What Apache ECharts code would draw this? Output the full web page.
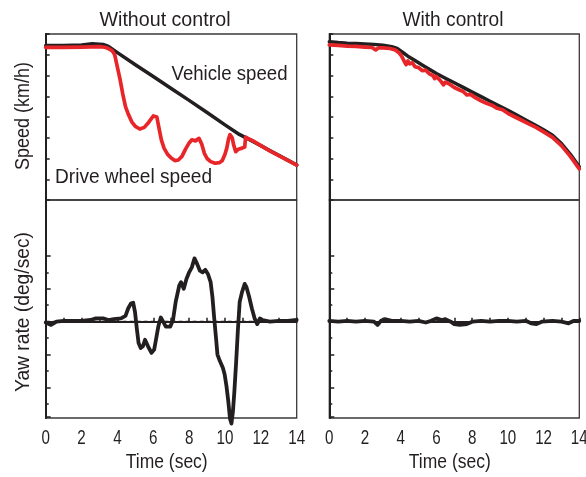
<!DOCTYPE html>
<html>
<head>
<meta charset="utf-8">
<script src="https://cdn.jsdelivr.net/npm/echarts@6/dist/echarts.min.js"></script>
<style>
  html, body { margin: 0; padding: 0; background: #fff; }
  #chart { width: 586px; height: 477px; }
</style>
</head>
<body>
<div id="chart"></div>
<script>
// Braking test traces: left column without control, right column with control.
const panelTitles = ['Without control', 'With control'];
const timeTickLabels = [0, 2, 4, 6, 8, 10, 12, 14];
const curveLabels = ['Vehicle speed', 'Drive wheel speed'];
const axisNames = ['Speed (km/h)', 'Yaw rate (deg/sec)', 'Time (sec)'];

// [time (s), speed] without control
const vehicleSpeedOff = [
  [0, 74.4], [0.5, 74.4], [1, 74.5], [1.5, 74.6], [2, 74.7], [2.6, 75.3], [3.2, 75.0],
  [3.5, 74.0], [4, 71.0], [5, 65.2], [6, 59.5], [7, 53.7], [8, 48.0], [9, 42.2],
  [10, 36.2], [10.8, 31.6], [11.5, 28.5], [12, 26.2], [12.5, 23.8], [13, 21.5],
  [13.5, 19.2], [14, 16.9]
];
const wheelSpeedOff = [
  [0, 73.6], [1, 73.6], [2, 73.7], [3, 73.9], [3.3, 73.6], [3.5, 73.0], [3.7, 72.0],
  [3.85, 70.0], [3.95, 66], [4.05, 62], [4.15, 58], [4.3, 51], [4.45, 45], [4.6, 41.5],
  [4.8, 37.7], [5.0, 35.5], [5.25, 34.2], [5.5, 35], [5.75, 37.5], [6.0, 40.5], [6.1, 41.2],
  [6.2, 40], [6.3, 35.5], [6.45, 29], [6.6, 25], [6.8, 22], [7.0, 20.2], [7.2, 19],
  [7.4, 19.3], [7.6, 21], [7.8, 24.5], [8.0, 27.5], [8.15, 29], [8.35, 28.5], [8.55, 29.7],
  [8.7, 27], [8.85, 22.5], [9.0, 20], [9.2, 18.5], [9.45, 17.7], [9.7, 18], [9.85, 19],
  [10.0, 22], [10.1, 25], [10.2, 29.5], [10.28, 31.5], [10.4, 30], [10.5, 26], [10.6, 23.3],
  [10.75, 24.5], [10.95, 25], [11.1, 25.5], [11.15, 30.3], [11.3, 29.6], [11.6, 28.3],
  [12, 26.2], [12.5, 23.7], [13, 21.4], [13.5, 19.1], [14, 16.8]
];

// [time (s), speed] with control
const vehicleSpeedOn = [
  [0, 76.3], [0.5, 75.9], [1, 75.6], [1.5, 75.4], [2, 75.2], [2.5, 75.0], [3, 74.6],
  [3.5, 73.9], [3.8, 73.0], [4.1, 71.2], [4.4, 69.3], [4.8, 67.2], [5.2, 65.1], [5.6, 63.0],
  [6, 61.0], [6.5, 58.7], [7, 56.5], [7.5, 54.3], [8, 52.0], [8.5, 49.8], [9, 47.6],
  [9.5, 45.4], [10, 43.2], [10.5, 40.9], [11, 38.5], [11.5, 36.2], [12, 33.8], [12.5, 31.2],
  [13, 27.2], [13.5, 22.0], [14, 16.0]
];
const wheelSpeedOn = [
  [0, 74.8], [0.5, 74.5], [1, 74.2], [1.5, 74.0], [2, 73.7], [2.4, 73.5], [2.6, 72.3],
  [2.75, 73.3], [3, 73.3], [3.4, 73.0], [3.7, 72.3], [3.9, 71.0], [4.05, 69.3], [4.2, 66.8],
  [4.3, 65.2], [4.4, 67.0], [4.5, 65.6], [4.65, 66.2], [4.8, 64.2], [5.0, 63.8], [5.2, 62.3],
  [5.4, 62.6], [5.6, 60.8], [5.8, 60.0], [5.9, 58.5], [6.0, 59.5], [6.25, 57.2], [6.4, 55.5],
  [6.5, 56.8], [6.7, 56.0], [7, 54.2], [7.3, 53.0], [7.5, 52.3], [7.7, 50.6], [7.9, 50.9],
  [8.2, 49.2], [8.5, 47.8], [8.8, 46.6], [9.1, 45.7], [9.4, 44.2], [9.7, 43.5], [10, 41.8],
  [10.4, 40.0], [10.8, 38.3], [11.2, 36.6], [11.6, 34.9], [12, 32.8], [12.5, 30.2],
  [13, 26.2], [13.5, 21.0], [14, 15.0]
];

// [time (s), yaw rate] in tick units
const yawRateOff = [
  [0, -0.05], [0.3, -0.2], [0.6, 0.0], [1, 0.05], [1.5, 0.05], [2, 0.05], [2.5, 0.1],
  [2.8, 0.2], [3.2, 0.2], [3.5, 0.1], [3.8, 0.15], [4.2, 0.2], [4.45, 0.35], [4.6, 0.8],
  [4.75, 1.1], [4.88, 1.15], [4.98, 0.6], [5.08, -0.4], [5.18, -1.3], [5.3, -1.6],
  [5.42, -1.5], [5.54, -1.1], [5.65, -1.2], [5.75, -1.6], [5.9, -1.9], [6.05, -1.7],
  [6.15, -1.1], [6.28, -0.3], [6.42, 0.25], [6.55, 0.0], [6.7, -0.3], [6.95, -0.3],
  [7.1, 0.1], [7.25, 1.2], [7.45, 2.2], [7.55, 2.4], [7.7, 2.0], [7.85, 2.6], [8.0, 3.0],
  [8.15, 3.3], [8.3, 3.85], [8.45, 3.5], [8.6, 3.1], [8.75, 3.0], [8.9, 3.15], [9.05, 2.9],
  [9.2, 2.4], [9.3, 1.5], [9.4, 0.2], [9.5, -1.0], [9.58, -2.0], [9.68, -2.3], [9.78, -2.3],
  [9.88, -2.8], [9.98, -3.2], [10.08, -3.9], [10.18, -4.8], [10.28, -5.9], [10.36, -6.2],
  [10.44, -5.5], [10.52, -4.3], [10.62, -2.5], [10.72, -0.5], [10.82, 1.2], [10.95, 1.8],
  [11.1, 2.3], [11.2, 2.1], [11.35, 1.5], [11.5, 0.8], [11.65, 0.2], [11.8, -0.15],
  [11.95, 0.2], [12.1, 0.1], [12.5, 0.0], [13, 0.05], [13.5, 0.05], [14, 0.1]
];
const yawRateOn = [
  [0, 0.05], [0.5, 0.0], [1, 0.05], [1.5, 0.0], [2, 0.05], [2.5, 0.0], [2.7, -0.2],
  [2.9, 0.05], [3.1, 0.15], [3.5, 0.05], [4, 0.05], [4.5, 0.0], [5, 0.05], [5.4, -0.05],
  [5.7, 0.05], [6, 0.2], [6.3, 0.1], [6.5, 0.15], [6.8, 0.0], [7, -0.15], [7.3, -0.2],
  [7.7, -0.15], [8, 0.0], [8.5, 0.05], [9, 0.0], [9.5, 0.05], [10, 0.05], [10.5, 0.0],
  [11, 0.05], [11.3, -0.1], [11.6, -0.15], [11.9, 0.0], [12.5, 0.05], [13, 0.0],
  [13.4, -0.1], [13.7, 0.05], [14, 0.05]
];

const yawMajorTicks = [-5.78, -4, -2, 0, 2, 4];
const yawMinorTicks = [-5, -3, -1, 1, 3];

const FONT = '"Liberation Sans", Arial, sans-serif';
const INK = '#231f20';
const RED = '#e8262a';
const BORDER = '#3a3a3a';

const colLeft = [45.7, 329.3];
const colWidth = [251, 250];
const speedTop = 34, speedHeight = 166;
const yawTop = 200, yawHeight = 218;
const yawMin = -5.86, yawMax = 7.4;

const grids = [];
const xAxes = [];
const yAxes = [];
const series = [];

[0, 1].forEach(function (c) {
  grids.push({ left: colLeft[c], top: speedTop, width: colWidth[c], height: speedHeight,
    show: true, borderColor: BORDER, borderWidth: 1.3, backgroundColor: 'transparent' });
  grids.push({ left: colLeft[c], top: yawTop, width: colWidth[c], height: yawHeight,
    show: true, borderColor: BORDER, borderWidth: 1.3, backgroundColor: 'transparent' });
  const gS = c * 2, gY = c * 2 + 1;

  // time axes (labels are drawn condensed afterwards)
  xAxes.push({ type: 'value', gridIndex: gS, min: 0, max: 14, interval: 1,
    axisLine: { show: false }, axisTick: { show: false }, axisLabel: { show: false },
    splitLine: { show: false } });
  xAxes.push({ type: 'value', gridIndex: gY, min: 0, max: 14, interval: 1,
    axisLine: { show: true, lineStyle: { color: INK, width: 2 } },
    axisTick: { show: true, inside: true, length: 4, lineStyle: { color: INK, width: 1.5 } },
    axisLabel: { show: false }, splitLine: { show: false } });

  // speed axis
  yAxes.push({ type: 'value', gridIndex: gS, min: 0, max: 80, interval: 10, position: 'left',
    axisLine: { show: true, lineStyle: { color: INK, width: 2 } },
    axisTick: { show: true, inside: true, length: 4, lineStyle: { color: INK, width: 1.5 } },
    axisLabel: { show: false }, splitLine: { show: false } });
  // yaw axis with long ticks
  yAxes.push({ type: 'value', gridIndex: gY, min: yawMin, max: yawMax, position: 'left',
    axisLine: { show: true, lineStyle: { color: INK, width: 2 } },
    axisTick: { show: true, inside: true, length: 5, customValues: yawMajorTicks,
      lineStyle: { color: INK, width: 1.5 } },
    axisLabel: { show: false }, splitLine: { show: false } });
  // short intermediate yaw ticks
  yAxes.push({ type: 'value', gridIndex: gY, min: yawMin, max: yawMax, position: 'left',
    axisLine: { show: false },
    axisTick: { show: true, inside: true, length: 3, customValues: yawMinorTicks,
      lineStyle: { color: INK, width: 1.5 } },
    axisLabel: { show: false }, splitLine: { show: false } });
});

function trace(data, xi, yi, color, width, extra) {
  return Object.assign({
    type: 'line', data: data, xAxisIndex: xi, yAxisIndex: yi,
    showSymbol: false, symbol: 'none', animation: false,
    lineStyle: { color: color, width: width, join: 'round', cap: 'round' }
  }, extra || {});
}

// left column: xAxes 0 (speed) 1 (yaw); yAxes 0 speed, 1 yaw, 2 yaw minor
series.push(trace(vehicleSpeedOff, 0, 0, INK, 3.5));
series.push(trace(wheelSpeedOff, 0, 0, RED, 3.7));
series.push(trace(yawRateOff, 1, 1, INK, 3.8, {
  clip: false,
  markLine: {
    silent: true, symbol: 'none', animation: false,
    label: { show: false },
    lineStyle: { color: INK, width: 1.3, type: [4, 3] },
    data: [{ yAxis: 0 }]
  }
}));
// right column: xAxes 2, 3; yAxes 3 speed, 4 yaw, 5 yaw minor
series.push(trace(vehicleSpeedOn, 2, 3, INK, 3.5));
series.push(trace(wheelSpeedOn, 2, 3, RED, 3.7));
series.push(trace(yawRateOn, 3, 4, INK, 3.8));

const chart = echarts.init(document.getElementById('chart'), null, { renderer: 'canvas' });
chart.setOption({
  animation: false,
  backgroundColor: '#fff',
  grid: grids,
  xAxis: xAxes,
  yAxis: yAxes,
  series: series
});

// Condensed text: measure with the page font, then squeeze horizontally to the set width.
const measureCtx = document.createElement('canvas').getContext('2d');
function condensed(text, x, y, size, width, rotate) {
  measureCtx.font = size + 'px ' + FONT;
  const natural = measureCtx.measureText(text).width;
  return { type: 'text', x: x, y: y, silent: true,
    rotation: rotate ? Math.PI / 2 : 0,
    scaleX: width / natural, scaleY: 1,
    style: { text: text, font: size + 'px ' + FONT, fill: INK,
      align: 'center', verticalAlign: 'middle',
      textAlign: 'center', textVerticalAlign: 'middle' } };
}
function squeezed(text, x, y, size, sx) {
  return { type: 'text', x: x, y: y, silent: true, scaleX: sx, scaleY: 1,
    style: { text: text, font: size + 'px ' + FONT, fill: INK,
      align: 'center', verticalAlign: 'middle',
      textAlign: 'center', textVerticalAlign: 'middle' } };
}

const graphics = [
  condensed(panelTitles[0], 165, 20, 21, 131),
  condensed(panelTitles[1], 453, 20, 21, 101),
  condensed(curveLabels[0], 229.5, 74.5, 21, 116),
  condensed(curveLabels[1], 133.5, 177.5, 21, 157),
  condensed(axisNames[0], 23, 116, 21, 108, true),
  condensed(axisNames[1], 23, 312, 21, 160, true)
];

// time tick labels and axis titles placed from the bottom time axes
[1, 3].forEach(function (xi, c) {
  const base = chart.convertToPixel({ yAxisIndex: c === 0 ? 1 : 4 }, yawMin);
  timeTickLabels.forEach(function (v) {
    const px = chart.convertToPixel({ xAxisIndex: xi }, v);
    graphics.push(squeezed(String(v), px, base + 20, 20.5, 0.74));
  });
  const mid = chart.convertToPixel({ xAxisIndex: xi }, 7);
  graphics.push(condensed(axisNames[2], mid - 4.5, base + 44, 21, 82));
});

chart.setOption({ graphic: graphics });
</script>
</body>
</html>
